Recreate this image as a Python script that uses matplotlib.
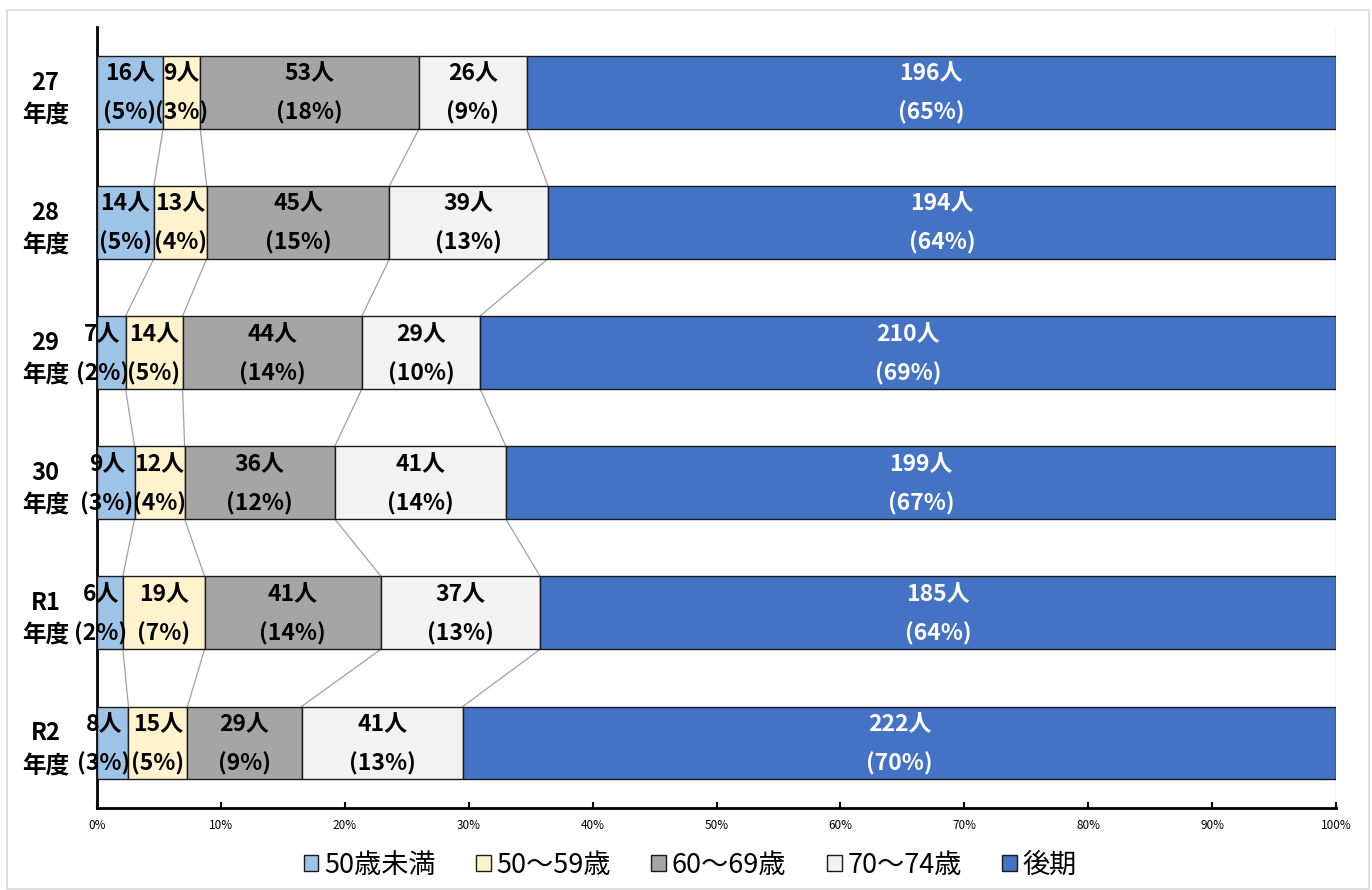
import matplotlib.pyplot as plt
import numpy as np
from matplotlib.patches import Rectangle

plt.rcParams['font.family'] = ['Noto Sans CJK JP', 'DejaVu Sans']

# data (top to bottom as displayed)
years = ["27\n年度", "28\n年度", "29\n年度", "30\n年度", "R1\n年度", "R2\n年度"]
series_names = ["50歳未満", "50〜59歳", "60〜69歳", "70〜74歳", "後期"]
under50 = [16, 14, 7, 9, 6, 8]
age50s = [9, 13, 14, 12, 19, 15]
age60s = [53, 45, 44, 36, 41, 29]
age70s = [26, 39, 29, 41, 37, 41]
kouki = [196, 194, 210, 199, 185, 222]
pct_labels = [
    [5, 3, 18, 9, 65],
    [5, 4, 15, 13, 64],
    [2, 5, 14, 10, 69],
    [3, 4, 12, 14, 67],
    [2, 7, 14, 13, 64],
    [3, 5, 9, 13, 70],
]

colors = ["#9DC3E6", "#FFF2CC", "#A5A5A5", "#F2F2F2", "#4472C4"]
text_colors = ["black", "black", "black", "black", "white"]

counts = np.array([under50, age50s, age60s, age70s, kouki], dtype=float)
shares = counts / counts.sum(axis=0)
ypos = np.arange(len(years))
bar_h = 0.56

fig = plt.figure(figsize=(13.72, 8.9), dpi=100)
ax = fig.add_axes([0.0707, 0.0921, 0.9031, 0.8775])

left = np.zeros(len(years))
for i, name in enumerate(series_names):
    ax.barh(ypos, shares[i], left=left, height=bar_h, color=colors[i],
            edgecolor="#1a1a1a", linewidth=1.0, label=name, zorder=3)
    for j in range(len(years)):
        cx = left[j] + shares[i, j] / 2
        # narrow first segments: label pushed left a little, as in the original
        dx = -9 if (i == 0 and shares[i, j] < 0.04) else 0
        ax.annotate(f"{int(counts[i, j])}人", (cx, ypos[j] - 0.14), xytext=(dx, 0),
                    textcoords="offset pixels", ha="center", va="center",
                    fontsize=16.5, fontweight="bold", color=text_colors[i], zorder=5)
        ax.annotate(f"({pct_labels[j][i]}%)", (cx, ypos[j] + 0.16), xytext=(dx, 0),
                    textcoords="offset pixels", ha="center", va="center",
                    fontsize=16.5, fontweight="bold", color=text_colors[i], zorder=5)
    left = left + shares[i]

# series lines between bars
cum = np.cumsum(shares, axis=0)
for i in range(4):
    for j in range(len(years) - 1):
        ax.plot([cum[i, j], cum[i, j + 1]], [ypos[j] + bar_h / 2, ypos[j + 1] - bar_h / 2],
                color="#A0A0A0", linewidth=0.9, zorder=2)

ax.axvline(1.0, color="#D0D0D0", linewidth=1.0, zorder=1)

ax.set_xlim(0, 1)
ax.set_ylim(len(years) - 0.5, -0.5)
ax.set_xticks(np.arange(0, 1.01, 0.1))
ax.set_xticklabels([f"{int(round(v * 100))}%" for v in np.arange(0, 1.01, 0.1)], fontsize=8.5)
ax.set_yticks(ypos)
ax.set_yticklabels(years, fontsize=17, fontweight="bold", linespacing=1.45)
for lab in ax.get_yticklabels():
    lab.set_multialignment("center")
ax.tick_params(axis="y", length=0, pad=20)
ax.tick_params(axis="x", direction="in", length=4, width=1.5, pad=8)
for s in ["top", "right"]:
    ax.spines[s].set_visible(False)
ax.spines["left"].set_linewidth(2)
ax.spines["bottom"].set_linewidth(2)

fig.legend(*ax.get_legend_handles_labels(), loc="center", bbox_to_anchor=(0.503, 0.028),
           ncol=5, frameon=False, fontsize=19.5, handlelength=0.55, handleheight=0.55,
           handletextpad=0.2, columnspacing=1.5)

fig.patches.append(Rectangle((0.005, 0.001), 0.993, 0.988, transform=fig.transFigure,
                             fill=False, edgecolor="#D9D9D9", linewidth=1.2))

fig.savefig("out.png", dpi=100)
